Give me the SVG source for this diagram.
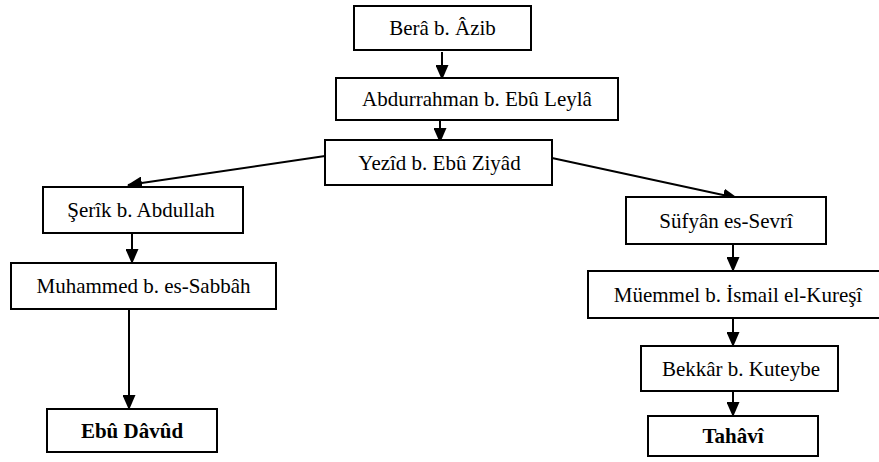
<svg xmlns="http://www.w3.org/2000/svg" width="879" height="462" viewBox="0 0 879 462">
<style>
.box{fill:#fff;stroke:#000;stroke-width:2}
.t{font-family:"Liberation Serif","Times New Roman",serif;font-size:21px;fill:#000;text-anchor:middle}
.b{font-weight:bold}
.c{stroke:#000;stroke-width:2;fill:none;marker-end:url(#ah)}
</style>
<defs>
<marker id="ah" viewBox="0 0 15 13" refX="14" refY="6.5" markerWidth="15" markerHeight="13" markerUnits="userSpaceOnUse" orient="auto">
<path d="M0,0 L15,6.5 L0,13 z" fill="#000"/>
</marker>
</defs>
<rect width="879" height="462" fill="#fff"/>
<g id="connectors">
<line class="c" x1="442" y1="52" x2="442" y2="79"/>
<line class="c" x1="440" y1="121" x2="440" y2="142"/>
<line class="c" x1="325" y1="156" x2="128" y2="185"/>
<line class="c" x1="552" y1="158" x2="737" y2="198"/>
<line class="c" x1="132" y1="234" x2="132" y2="263"/>
<line class="c" x1="129" y1="310" x2="129" y2="409"/>
<line class="c" x1="733" y1="245" x2="733" y2="271"/>
<line class="c" x1="733" y1="319" x2="733" y2="346"/>
<line class="c" x1="733" y1="392" x2="733" y2="416"/>
</g>
<g id="n-bera"><rect class="box" x="354" y="6" width="177" height="44"/><text class="t" x="442.5" y="35">Berâ b. Âzib</text></g>
<g id="n-abdurrahman"><rect class="box" x="336" y="78" width="282" height="42"/><text class="t" x="477" y="106">Abdurrahman b. Ebû Leylâ</text></g>
<g id="n-yezid"><rect class="box" x="325" y="140" width="227" height="45"/><text class="t" x="439.5" y="170">Yezîd b. Ebû Ziyâd</text></g>
<g id="n-serik"><rect class="box" x="43" y="187" width="200" height="46"/><text class="t" x="141" y="217">Şerîk b. Abdullah</text></g>
<g id="n-muhammed"><rect class="box" x="11" y="263" width="265" height="46"/><text class="t" x="143.5" y="293">Muhammed b. es-Sabbâh</text></g>
<g id="n-ebudavud"><rect class="box" x="47" y="409" width="170" height="43"/><text class="t b" x="132" y="438">Ebû Dâvûd</text></g>
<g id="n-sufyan"><rect class="box" x="626" y="197" width="200" height="47"/><text class="t" x="726" y="228">Süfyân es-Sevrî</text></g>
<g id="n-muemmel"><rect class="box" x="588" y="271" width="296" height="47"/><text class="t" x="738" y="302">Müemmel b. İsmail el-Kureşî</text></g>
<g id="n-bekkar"><rect class="box" x="641" y="346" width="197" height="45"/><text class="t" x="741" y="376">Bekkâr b. Kuteybe</text></g>
<g id="n-tahavi"><rect class="box" x="648" y="416" width="170" height="40"/><text class="t b" x="733" y="443">Tahâvî</text></g>
</svg>
